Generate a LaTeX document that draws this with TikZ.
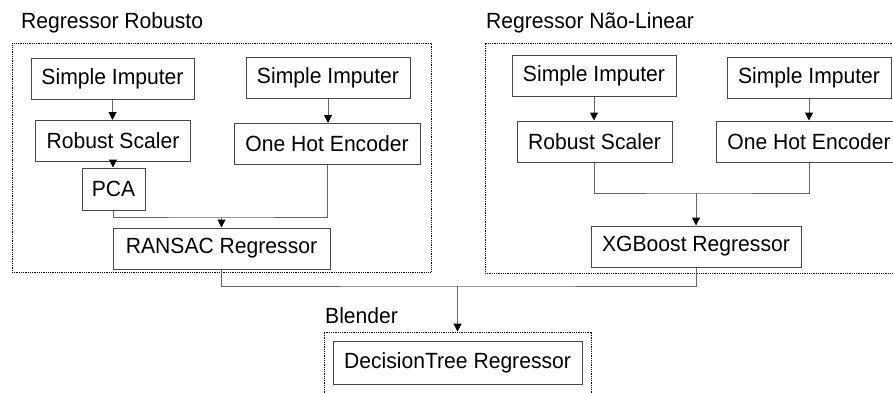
\documentclass[tikz,border=0pt]{standalone}
\usepackage{fontspec}
\setmainfont[FakeStretch=0.96]{Liberation Sans}
\usetikzlibrary{arrows.meta}
\begin{document}
\begin{tikzpicture}[x=1pt,y=-1pt,
  every node/.style={font=\fontsize{22}{26}\selectfont},
  stage/.style={draw=black!72, line width=1pt, inner sep=0pt, minimum height=41pt, fill=white},
  group/.style={draw=black, line width=0.9pt, dash pattern=on 1pt off 0.8pt, inner sep=0pt},
  title/.style={anchor=base west, inner sep=0pt},
  link/.style={draw=black!60, line width=1pt},
  flow/.style={link, -{Triangle[width=8pt,length=8pt,color=black]}}
]
\useasboundingbox (0,0) rectangle (893,392);

% group frames
\node[group, minimum width=419pt, minimum height=229pt] (grpL) at (221.5,157.5) {};
\node[group, minimum width=419pt, minimum height=230pt] (grpR) at (694.5,158) {};
\node[group, minimum width=267pt, minimum height=68pt] (blend) at (457.5,366) {};

% group titles
\node[title] (tL) at (21,28) {Regressor Robusto};
\node[title] (tR) at (486,28) {Regressor Não-Linear};
\node[title] (tB) at (325,323) {Blender};

% robust regressor pipeline
\node[stage, minimum width=163pt] (si1) at (112.5,78.5) {Simple Imputer};
\node[stage, minimum width=164pt] (si2) at (328,78) {Simple Imputer};
\node[stage, minimum width=155pt] (rs1) at (113,141) {Robust Scaler};
\node[stage, minimum width=186pt] (ohe1) at (327,144) {One Hot Encoder};
\node[stage, minimum width=63pt, minimum height=42pt] (pca) at (113.5,189) {PCA};
\node[stage, minimum width=217pt] (ransac) at (221.5,248.5) {RANSAC Regressor};

% non-linear regressor pipeline
\node[stage, minimum width=164pt] (si3) at (594,75.5) {Simple Imputer};
\node[stage, minimum width=164pt] (si4) at (809,77.5) {Simple Imputer};
\node[stage, minimum width=155pt] (rs2) at (594.5,141.5) {Robust Scaler};
\node[stage, minimum width=186pt] (ohe2) at (809,141.5) {One Hot Encoder};
\node[stage, minimum width=210pt] (xgb) at (696,246.5) {XGBoost Regressor};

% blender
\node[stage, minimum width=249pt, minimum height=43pt] (dt) at (457.5,362.5) {DecisionTree Regressor};

% junctions
\coordinate (j1) at (ransac.north |- 0,217);
\coordinate (j2) at (xgb.north |- 0,193);
\coordinate (j3) at (blend.north |- 0,286);

% connectors
\draw[flow] (si1.south) -- (si1.south |- rs1.north);
\draw[flow] (rs1.south) -- (rs1.south |- pca.north);
\draw[flow] (si2.south) -- (si2.south |- ohe1.north);
\draw[link] (pca.south) |- (j1) -| (ohe1.south);
\draw[flow] (j1) -- (ransac.north);

\draw[flow] (si3.south) -- (si3.south |- rs2.north);
\draw[flow] (si4.south) -- (si4.south |- ohe2.north);
\draw[link] (rs2.south) |- (j2) -| (ohe2.south);
\draw[flow] (j2) -- (xgb.north);

\draw[link] (ransac.south) |- (j3) -| (xgb.south);
\draw[flow] (j3) -- (blend.north);
\end{tikzpicture}
\end{document}
